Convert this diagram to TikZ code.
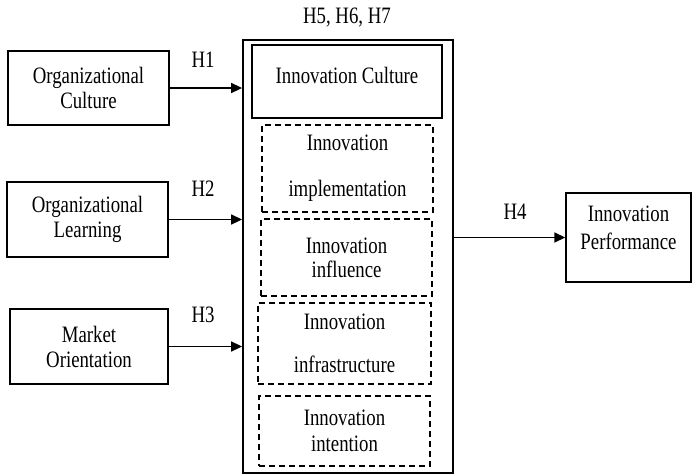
\documentclass[tikz,border=0pt]{standalone}
\usepackage{fontspec}
\setmainfont{Liberation Serif}[FakeStretch=0.8]
\usetikzlibrary{arrows.meta,positioning}
\tikzset{
  every node/.style={font=\fontsize{23.5}{25}\selectfont},
  box/.style={draw,line width=1.4pt,align=center,inner sep=0pt},
  corebox/.style={draw,line width=1.8pt,inner sep=0pt},
  dimbox/.style={draw,line width=1.5pt,dash pattern=on 6pt off 4pt,align=center,inner sep=0pt},
  link/.style={-{Triangle[length=11pt,width=10pt]},line width=1.6pt},
  hyp/.style={inner sep=0pt}
}

\begin{document}
\begin{tikzpicture}[x=1pt,y=-1pt]
  \useasboundingbox (0,0) rectangle (694,475);
  % drivers on the left
  \node[box,minimum width=161,minimum height=74] (oc) at (88.5,88) {Organizational\\Culture};
  \node[box,minimum width=161,minimum height=75] (ol) at (87.5,219.5) {Organizational\\Learning};
  \node[box,minimum width=158,minimum height=75] (mo) at (89,346.5) {Market\\Orientation};
  % innovation culture block and its dimensions
  \node[corebox,minimum width=210,minimum height=433] (core) at (348,256.5) {};
  \node[box,line width=1.8pt,minimum width=190,minimum height=73,text depth=13pt] (ic) at (347,81.5) {Innovation Culture};
  \node[dimbox,minimum width=171,minimum height=87] (imp) at (347.5,168.5) {Innovation\\[21pt]implementation};
  \node[dimbox,minimum width=171,minimum height=77] (inf) at (346.5,257.5) {Innovation\\[-1pt]influence};
  \node[dimbox,minimum width=173,minimum height=81] (ifr) at (344.5,343.5) {Innovation\\[18pt]infrastructure};
  \node[dimbox,minimum width=171,minimum height=70] (int) at (344.5,431) {Innovation\\[1pt]intention};
  % outcome
  \node[box,minimum width=125,minimum height=89,text depth=19pt] (perf) at (628.5,237.5) {Innovation\\[3pt]Performance};
  % paths
  \draw[link] (oc) -- (oc -| core.west);
  \draw[link] (ol) -- (ol -| core.west);
  \draw[link] (mo) -- (mo -| core.west);
  \draw[link] (core.east |- perf.west) -- (perf);
  \node[hyp] (h1) at (203,60) {H1};
  \node[hyp] (h2) at (203,189) {H2};
  \node[hyp] (h3) at (203,315) {H3};
  \node[hyp] (h4) at (515,212) {H4};
  \node[hyp] (h567) at (347,18) {H5, H6, H7};
\end{tikzpicture}
\end{document}
